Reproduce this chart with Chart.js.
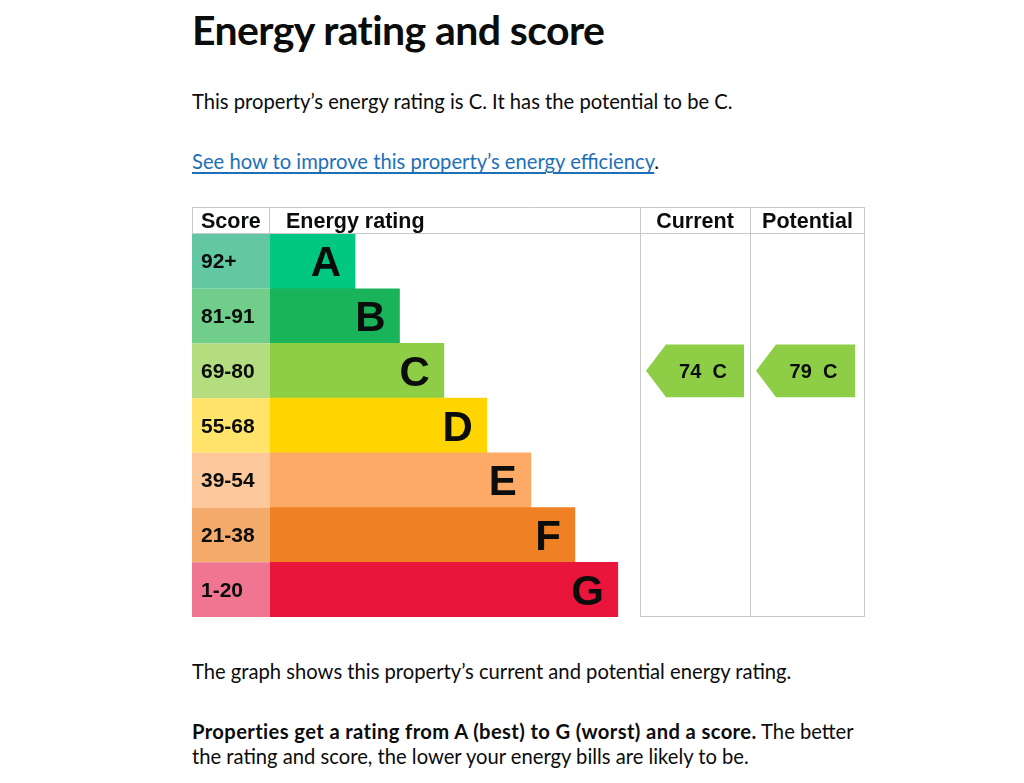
<!DOCTYPE html>
<html>
<head>
<meta charset="utf-8">
<script src="https://cdn.jsdelivr.net/npm/chart.js@4"></script>
<style>
  body { margin: 0; background: #fff; color: #0b0c0c; font-family: Lato, sans-serif; }
  #page { position: relative; width: 1024px; height: 783px; overflow: hidden; }
  .t { position: absolute; left: 192px; white-space: nowrap; font-size: 20.2px; line-height: 20px; }
  .t b { letter-spacing: 0.38px; }
  h1 { position: absolute; left: 192px; top: 8px; margin: 0; font-size: 41px; line-height: 44px; font-weight: 700; letter-spacing: -0.6px; }
  a { color: #1d70b8; text-decoration: underline; text-underline-offset: 3px; }
  #epc { position: absolute; left: 192px; top: 207px; }
</style>
</head>
<body>
<div id="page">
  <h1>Energy rating and score</h1>
  <div class="t" style="top:91px">This property’s energy rating is C. It has the potential to be C.</div>
  <div class="t" style="top:151px"><a href="#">See how to improve this property’s energy efficiency</a>.</div>
  <canvas id="epc" width="673" height="410"></canvas>
  <div class="t" style="top:661px">The graph shows this property’s current and potential energy rating.</div>
  <div class="t" style="top:721px"><b>Properties get a rating from A (best) to G (worst) and a score.</b> The better</div>
  <div class="t" style="top:746px">the rating and score, the lower your energy bills are likely to be.</div>
</div>
<script>
// Rating bands, top (best) to bottom (worst)
const bands = ['A', 'B', 'C', 'D', 'E', 'F', 'G'];
const scoreRanges = ['92+', '81-91', '69-80', '55-68', '39-54', '21-38', '1-20'];
const bandMinScore = [92, 81, 69, 55, 39, 21, 1];
// bar length of each band, as a share of the rating column
const barLengths = [23, 35, 47, 58.6, 70.5, 82.4, 94];
const currentScore = 74;
const potentialScore = 79;

const barColors = ['#00c781', '#19b459', '#8dce46', '#ffd500', '#fcaa65', '#ef8023', '#e9153b'];
const cellColors = ['#64c7a3', '#71cd8a', '#b3dd7e', '#ffe36a', '#fdc89b', '#f4aa6a', '#ef7590'];

const INK = '#0b0c0c';
const LINE = '#c8c8c8';
const SCORE_W = 78, HEAD_H = 27, CUR_W = 110, POT_W = 115;

function bandOf(score) {
    return bandMinScore.findIndex(m => score >= m);
}

const epcTable = {
    id: 'epcTable',
    beforeDatasetsDraw(chart) {
        const { ctx, chartArea, scales: { y } } = chart;
        const W = chart.width;
        const rowH = y.getPixelForValue(1) - y.getPixelForValue(0);
        ctx.save();
        // score column
        bands.forEach((b, i) => {
            const yc = y.getPixelForValue(i);
            ctx.fillStyle = cellColors[i];
            ctx.fillRect(0, yc - rowH / 2, SCORE_W, rowH);
            ctx.fillStyle = INK;
            ctx.font = 'bold 21px "Liberation Sans", Arial, sans-serif';
            ctx.textAlign = 'left';
            ctx.textBaseline = 'alphabetic';
            ctx.fillText(scoreRanges[i], 9, yc + 7);
        });
        // grid
        ctx.strokeStyle = LINE;
        ctx.lineWidth = 1;
        ctx.beginPath();
        ctx.moveTo(0, 0.5); ctx.lineTo(W, 0.5);
        ctx.moveTo(0, HEAD_H - 0.5); ctx.lineTo(W, HEAD_H - 0.5);
        ctx.moveTo(0.5, 0); ctx.lineTo(0.5, HEAD_H);
        ctx.moveTo(SCORE_W - 0.5, 0); ctx.lineTo(SCORE_W - 0.5, HEAD_H);
        ctx.moveTo(chartArea.right + 0.5, 0); ctx.lineTo(chartArea.right + 0.5, chart.height);
        ctx.moveTo(chartArea.right + CUR_W + 0.5, 0); ctx.lineTo(chartArea.right + CUR_W + 0.5, chart.height);
        ctx.moveTo(W - 0.5, 0); ctx.lineTo(W - 0.5, chart.height);
        ctx.moveTo(chartArea.right, chart.height - 0.5); ctx.lineTo(W, chart.height - 0.5);
        ctx.stroke();
        // header
        ctx.fillStyle = INK;
        ctx.font = 'bold 21.5px "Liberation Sans", Arial, sans-serif';
        ctx.textBaseline = 'alphabetic';
        ctx.textAlign = 'left';
        ctx.fillText('Score', 9, 21);
        ctx.fillText('Energy rating', SCORE_W + 16, 21);
        ctx.textAlign = 'center';
        ctx.fillText('Current', chartArea.right + CUR_W / 2, 21);
        ctx.fillText('Potential', chartArea.right + CUR_W + POT_W / 2, 21);
        ctx.restore();
    },
    afterDatasetsDraw(chart) {
        const { ctx, scales: { x, y }, chartArea } = chart;
        const rowH = y.getPixelForValue(1) - y.getPixelForValue(0);
        ctx.save();
        // band letters at the end of each bar
        ctx.fillStyle = INK;
        ctx.font = 'bold 42px "Liberation Sans", Arial, sans-serif';
        ctx.textAlign = 'right';
        ctx.textBaseline = 'alphabetic';
        bands.forEach((b, i) => {
            ctx.fillText(b, x.getPixelForValue(barLengths[i]) - 14, y.getPixelForValue(i) + 15);
        });
        // current / potential arrows
        const arrow = (score, colLeft, colW) => {
            const i = bandOf(score);
            const yc = y.getPixelForValue(i);
            const top = yc - rowH / 2 + 1, bot = yc + rowH / 2 - 1;
            const left = colLeft + 6, right = colLeft + colW - 6, neck = left + 20;
            ctx.fillStyle = barColors[i];
            ctx.beginPath();
            ctx.moveTo(left, yc);
            ctx.lineTo(neck, top);
            ctx.lineTo(right, top);
            ctx.lineTo(right, bot);
            ctx.lineTo(neck, bot);
            ctx.closePath();
            ctx.fill();
            ctx.fillStyle = INK;
            ctx.font = 'bold 20px "Liberation Sans", Arial, sans-serif';
            ctx.textAlign = 'center';
            ctx.fillText(score + '  ' + bands[i], (neck + right) / 2 - 2, yc + 7);
        };
        arrow(currentScore, chartArea.right, CUR_W);
        arrow(potentialScore, chartArea.right + CUR_W, POT_W - 4);
        ctx.restore();
    }
};

const ctx = document.getElementById('epc').getContext('2d');
const epcChart = new Chart(ctx, {
    type: 'bar',
    data: {
        labels: bands,
        datasets: [{
            label: 'Energy rating',
            data: barLengths,
            backgroundColor: barColors,
            borderWidth: 0,
            barPercentage: 1,
            categoryPercentage: 1
        }]
    },
    options: {
        indexAxis: 'y',
        responsive: false,
        animation: false,
        layout: { padding: { left: SCORE_W, right: CUR_W + POT_W, top: HEAD_H, bottom: 0 } },
        plugins: { legend: { display: false }, tooltip: { enabled: false } },
        scales: {
            x: { display: false, min: 0, max: 100 },
            y: { display: false }
        }
    },
    plugins: [epcTable]
});
</script>
</body>
</html>
